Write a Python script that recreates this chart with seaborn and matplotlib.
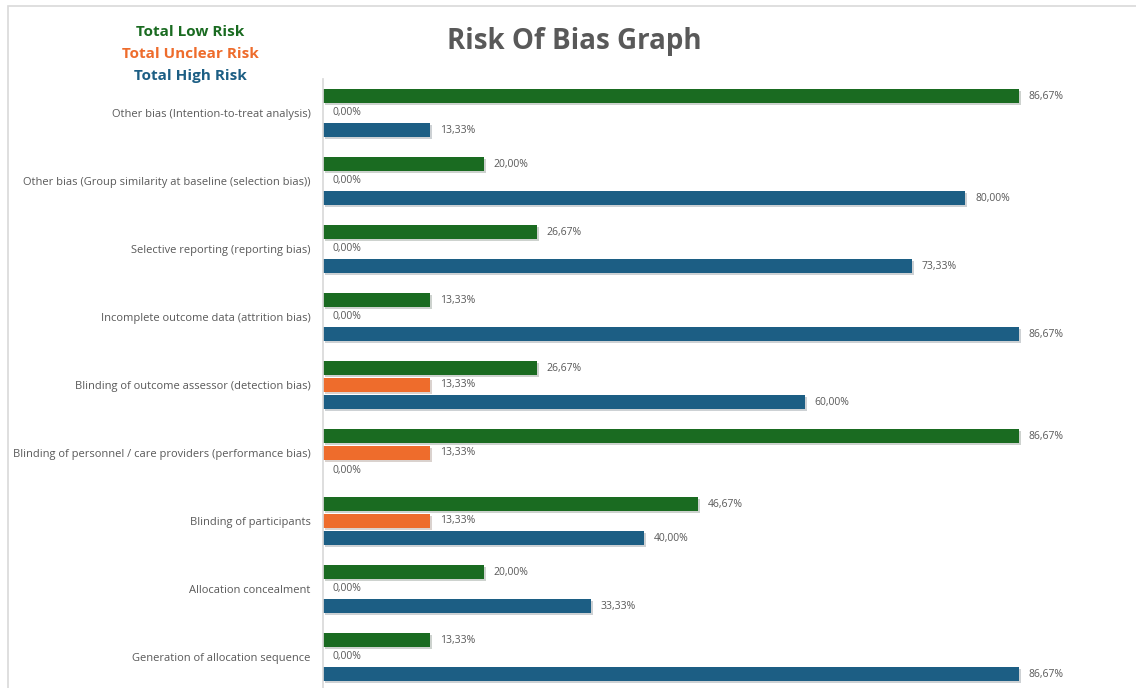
import pandas as pd
import numpy as np
import matplotlib.pyplot as plt
import seaborn as sns
from matplotlib.patches import Rectangle
import matplotlib.patheffects as pe

# 데이터
categories = [
    'Other bias (Intention-to-treat analysis)',
    'Other bias (Group similarity at baseline (selection bias))',
    'Selective reporting (reporting bias)',
    'Incomplete outcome data (attrition bias)',
    'Blinding of outcome assessor (detection bias)',
    'Blinding of personnel / care providers (performance bias)',
    'Blinding of participants',
    'Allocation concealment',
    'Generation of allocation sequence',
]
series = ['Total Low Risk', 'Total Unclear Risk', 'Total High Risk']
low_risk = [86.67, 20.00, 26.67, 13.33, 26.67, 86.67, 46.67, 20.00, 13.33]
unclear_risk = [0.00, 0.00, 0.00, 0.00, 13.33, 13.33, 13.33, 0.00, 0.00]
high_risk = [13.33, 80.00, 73.33, 86.67, 60.00, 0.00, 40.00, 33.33, 86.67]

colors = ['#1a6b21', '#ee6c2c', '#1c5e84']
text_gray = '#595959'

df = pd.DataFrame({
    'category': categories * 3,
    'risk': np.repeat(series, len(categories)),
    'value': low_risk + unclear_risk + high_risk,
})

sns.set_theme(style='white')
plt.rcParams['font.family'] = ['Open Sans', 'DejaVu Sans']

fig = plt.figure(figsize=(11.36, 6.88), dpi=100)
# 바깥 테두리
fig.patches.append(Rectangle((8 / 1136, -0.1), 1.2, 1.1 - 6 / 688, transform=fig.transFigure,
                             fill=False, edgecolor='#d9d9d9', linewidth=1.2))

ax = fig.add_axes([323 / 1136, -3 / 688, (1126 - 323) / 1136, 612 / 688])
sns.barplot(data=df, y='category', x='value', hue='risk', order=categories,
            hue_order=series, palette=colors, orient='h', width=0.75, gap=0.16,
            saturation=1, linewidth=0, legend=False, ax=ax)

# 막대 그림자
for b in ax.patches:
    b.set_path_effects([pe.SimplePatchShadow(offset=(1.5, -1.5), alpha=0.2), pe.Normal()])

ax.set_xlim(0, 100)
ax.set_ylim(len(categories) - 0.5, -0.5)
ax.set_xlabel('')
ax.set_ylabel('')
ax.set_xticks([])
for s in ['top', 'right', 'bottom']:
    ax.spines[s].set_visible(False)
ax.spines['left'].set_color('#d9d9d9')
ax.tick_params(axis='y', length=0, pad=9, labelsize=8, labelcolor=text_gray)

# 값 표시
for cont in ax.containers:
    labels = [f'{b.get_width():.2f}%'.replace('.', ',') for b in cont]
    ax.bar_label(cont, labels=labels, padding=7, fontsize=7.5, color=text_gray)

# 범례 텍스트
for i, (name, c) in enumerate(zip(series, colors)):
    fig.text(190 / 1136, 1 - (32 + 22 * i) / 688, name, color=c, fontsize=11,
             fontweight='bold', ha='center', va='center')

fig.text(574 / 1136, 1 - 42 / 688, 'Risk Of Bias Graph', color=text_gray,
         fontsize=20, fontweight='bold', ha='center', va='center')

fig.savefig('out.png', dpi=100)
